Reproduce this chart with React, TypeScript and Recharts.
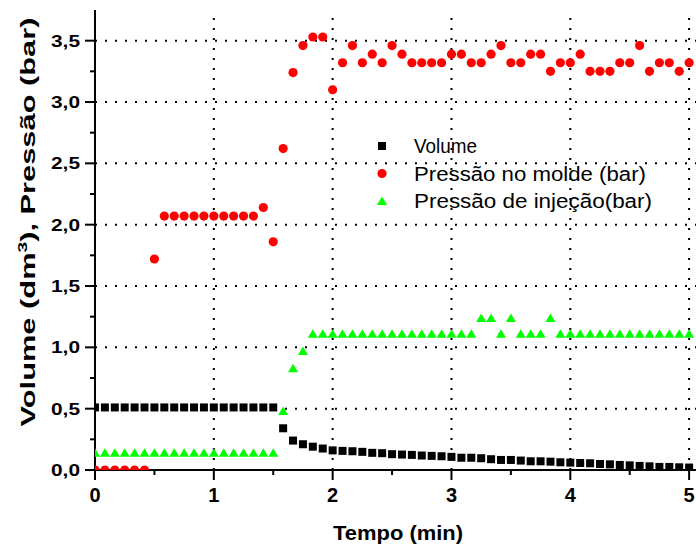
import React from "react";
import { ReferenceLine, Scatter, ScatterChart, XAxis, YAxis } from "recharts";

// sampling times (s), one reading every 5 s
const TIME_S = [
  0, 5, 10, 15, 20, 25, 30, 35, 40, 45, 50, 55, 60, 65, 70, 75, 80, 85, 90, 95,
  100, 105, 110, 115, 120, 125, 130, 135, 140, 145, 150, 155, 160, 165, 170, 175, 180, 185, 190, 195,
  200, 205, 210, 215, 220, 225, 230, 235, 240, 245, 250, 255, 260, 265, 270, 275, 280, 285, 290, 295,
  300,
];

const VOLUME = [
  0.51, 0.51, 0.51, 0.51, 0.51, 0.51, 0.51, 0.51, 0.51, 0.51, 0.51, 0.51, 0.51, 0.51, 0.51, 0.51, 0.51, 0.51, 0.51,
  0.34, 0.24, 0.21, 0.19, 0.175, 0.16, 0.156, 0.153, 0.148, 0.14, 0.137, 0.129, 0.126, 0.123, 0.118, 0.115, 0.112,
  0.107, 0.1, 0.1, 0.096, 0.088, 0.082, 0.082, 0.077, 0.071, 0.071, 0.068, 0.063, 0.06, 0.057, 0.055, 0.049,
  0.046, 0.041, 0.038, 0.033, 0.03, 0.025, 0.025, 0.022, 0.02,
];

const PRESSAO_MOLDE = [
  0, 0, 0, 0, 0, 0, 1.72, 2.07, 2.07, 2.07, 2.07, 2.07, 2.07, 2.07, 2.07, 2.07, 2.07, 2.14, 1.86, 2.62,
  3.24, 3.46, 3.53, 3.53, 3.1, 3.32, 3.46, 3.32, 3.39, 3.32, 3.46, 3.39, 3.32, 3.32, 3.32, 3.32, 3.39, 3.39, 3.32, 3.32,
  3.39, 3.46, 3.32, 3.32, 3.39, 3.39, 3.25, 3.32, 3.32, 3.39, 3.25, 3.25, 3.25, 3.32, 3.32, 3.46, 3.25, 3.32, 3.32, 3.25,
  3.32,
];

const PRESSAO_INJECAO = [
  0.14, 0.14, 0.14, 0.14, 0.14, 0.14, 0.14, 0.14, 0.14, 0.14, 0.14, 0.14, 0.14, 0.14, 0.14, 0.14, 0.14, 0.14, 0.14,
  0.48, 0.83, 0.97, 1.11, 1.11, 1.11, 1.11, 1.11, 1.11, 1.11, 1.11, 1.11, 1.11, 1.11, 1.11, 1.11, 1.11, 1.11, 1.11, 1.11,
  1.24, 1.24, 1.11, 1.24, 1.11, 1.11, 1.11, 1.24, 1.11, 1.11, 1.11, 1.11, 1.11, 1.11, 1.11, 1.11, 1.11, 1.11, 1.11, 1.11,
  1.11, 1.11,
];

const X_TICKS = [0, 0.5, 1, 1.5, 2, 2.5, 3, 3.5, 4, 4.5, 5];
const Y_TICKS = [0, 0.25, 0.5, 0.75, 1, 1.25, 1.5, 1.75, 2, 2.25, 2.5, 2.75, 3, 3.25, 3.5];
const X_GRID = [1, 2, 3, 4, 5];
const Y_GRID = [0.5, 1, 1.5, 2, 2.5, 3, 3.5];

const FONT = "'Liberation Sans', Arial, Helvetica, sans-serif";

const toPoints = (vals: number[]) => vals.map((v, i) => ({ t: TIME_S[i] / 60, v }));

const Square = ({ cx, cy }: any) => <rect x={cx - 4} y={cy - 4} width={8} height={8} fill="#000000" />;
const Dot = ({ cx, cy }: any) => <circle cx={cx} cy={cy} r={4.6} fill="#ff0000" />;
const Tri = ({ cx, cy }: any) => (
  <polygon points={`${cx},${cy - 4.5} ${cx + 5},${cy + 4} ${cx - 5},${cy + 4}`} fill="#00ff00" />
);

const SERIES = [
  { name: "Volume", data: VOLUME, Shape: Square, textLen: 63 },
  { name: "Pressão no molde (bar)", data: PRESSAO_MOLDE, Shape: Dot, textLen: 232 },
  { name: "Pressão de injeção(bar)", data: PRESSAO_INJECAO, Shape: Tri, textLen: 238 },
];

const isMajor = (v: number, step: number) => Math.abs(v / step - Math.round(v / step)) < 1e-6;

function XTick({ x, y, payload }: any) {
  const v = payload.value;
  const major = isMajor(v, 1);
  return (
    <g>
      <line x1={x} x2={x} y1={y} y2={y + (major ? 10 : 5)} stroke="#000" strokeWidth={2} />
      {major && (
        <text x={x} y={y + 32} textAnchor="middle" fontSize={20} fontWeight="bold" fontFamily={FONT} fill="#000">
          {v}
        </text>
      )}
    </g>
  );
}

function YTick({ x, y, payload }: any) {
  const v = payload.value;
  const major = isMajor(v, 0.5);
  return (
    <g>
      <line x1={x} x2={x - (major ? 10 : 5)} y1={y} y2={y} stroke="#000" strokeWidth={2} />
      {major && (
        <text
          x={x - 15}
          y={y + 6}
          textAnchor="end"
          fontSize={17}
          fontWeight="bold"
          fontFamily={FONT}
          fill="#000"
          textLength={29}
          lengthAdjust="spacingAndGlyphs"
        >
          {v.toFixed(1).replace(".", ",")}
        </text>
      )}
    </g>
  );
}

const XTitle = () => (
  <text
    x={398}
    y={540}
    textAnchor="middle"
    fontSize={20}
    fontWeight="bold"
    fontFamily={FONT}
    fill="#000"
    textLength={130}
    lengthAdjust="spacingAndGlyphs"
  >
    Tempo (min)
  </text>
);

const YTitle = () => (
  <text
    transform="translate(35,222) rotate(-90)"
    textAnchor="middle"
    fontSize={21}
    fontWeight="bold"
    fontFamily={FONT}
    fill="#000"
    textLength={409}
    lengthAdjust="spacingAndGlyphs"
  >
    Volume (dm
    <tspan dy={-8} fontSize={13}>
      3
    </tspan>
    <tspan dy={8}>), Pressão (bar)</tspan>
  </text>
);

export default function App() {
  return (
    <div
      style={{
        position: "fixed",
        left: 0,
        top: 0,
        width: 696,
        height: 550,
        overflow: "hidden",
        background: "#fff",
      }}
    >
      <ScatterChart width={720} height={550} margin={{ top: 10, right: 19, bottom: 0, left: 0 }}>
        {X_GRID.map((g) => (
          <ReferenceLine key={`gx${g}`} x={g} stroke="#000" strokeWidth={2} strokeDasharray="2 8" />
        ))}
        {Y_GRID.map((g) => (
          <ReferenceLine key={`gy${g}`} y={g} stroke="#000" strokeWidth={2} strokeDasharray="2 8" />
        ))}
        {SERIES.map((s) => (
          <Scatter
            key={s.name}
            name={s.name}
            data={toPoints(s.data)}
            shape={<s.Shape />}
            isAnimationActive={false}
          />
        ))}
        <XAxis
          type="number"
          dataKey="t"
          domain={[0, 5.1]}
          ticks={X_TICKS}
          interval={0}
          height={80}
          allowDataOverflow
          tickSize={0}
          tickMargin={0}
          tickLine={false}
          axisLine={{ stroke: "#000", strokeWidth: 2 }}
          tick={<XTick />}
          label={{ content: () => <XTitle /> }}
        />
        <YAxis
          type="number"
          dataKey="v"
          domain={[0, 3.75]}
          ticks={Y_TICKS}
          interval={0}
          width={95}
          allowDataOverflow
          tickSize={0}
          tickMargin={0}
          tickLine={false}
          axisLine={{ stroke: "#000", strokeWidth: 2 }}
          tick={<YTick />}
          label={{ content: () => <YTitle /> }}
        />
      </ScatterChart>
      <svg
        width={696}
        height={550}
        style={{ position: "absolute", left: 0, top: 0, pointerEvents: "none" }}
      >
        {SERIES.map((s, i) => {
          const cy = 146 + i * 27.5;
          return (
            <g key={s.name}>
              <s.Shape cx={382} cy={cy} />
              <text
                x={414}
                y={cy + 7}
                fontSize={19.5}
                fontFamily={FONT}
                fill="#000"
                textLength={s.textLen}
                lengthAdjust="spacingAndGlyphs"
              >
                {s.name}
              </text>
            </g>
          );
        })}
      </svg>
    </div>
  );
}
